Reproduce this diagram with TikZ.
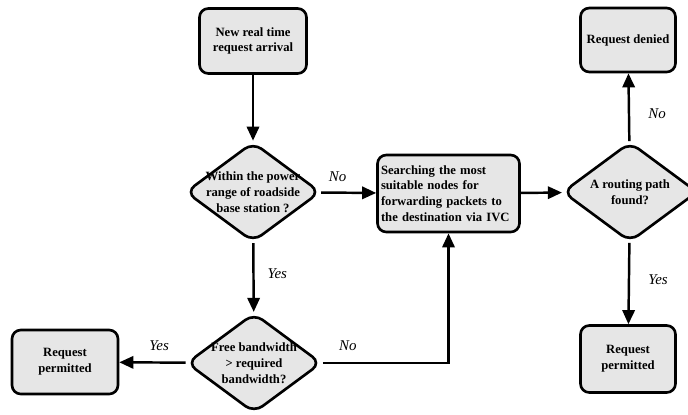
\documentclass[tikz,border=0pt]{standalone}
\usepackage{fontspec}
\setmainfont{Liberation Serif}
\usetikzlibrary{arrows.meta,shapes.geometric}
\definecolor{boxgray}{HTML}{E6E6E6}
\tikzset{
  block/.style={rectangle,rounded corners=5pt,draw=black,line width=1.5pt,fill=boxgray,
    align=center,font=\bfseries\fontsize{7.2}{9}\selectfont},
  decision/.style={diamond,rounded corners=6pt,draw=black,line width=1.5pt,fill=boxgray,
    minimum width=2.7cm,minimum height=2cm,inner sep=0pt},
  dtext/.style={align=center,font=\bfseries\fontsize{7.2}{9}\selectfont},
  flow/.style={line width=1.4pt,-{Triangle[length=8pt,width=7pt]}},
  answer/.style={font=\itshape\fontsize{8.5}{10}\selectfont}
}
\begin{document}
\begin{tikzpicture}[x=0.02cm,y=-0.02cm]
\useasboundingbox (0,0) rectangle (688,414);
% \draw[help lines,step=50] (0,0) grid (688,414);
\node (arrive) [block,minimum width=2.14cm,minimum height=1.3cm] at (253,41) {New real time\\request arrival};
\node (range) [decision,label={[dtext]center:Within the power\\range of roadside\\base station ?}] at (253,192) {};
\node (band) [decision,label={[dtext]center:Free bandwidth\\> required\\bandwidth?}] at (254,363) {};
\node (okleft) [block,minimum width=2.12cm,minimum height=1.28cm] at (65,362) {Request\\permitted};
\node (search) [block,minimum width=2.82cm,minimum height=1.54cm,align=left,text width=2.7cm,inner sep=2pt] at (448.5,193.5)
  {Searching the most\\suitable nodes for\\forwarding packets to\\the destination via IVC};
\node (route) [decision,label={[dtext]center:A routing path\\found?}] at (630,192) {};
\node (denied) [block,minimum width=1.9cm,minimum height=1.28cm] at (628,40) {Request denied};
\node (okright) [block,minimum width=1.9cm,minimum height=1.34cm] at (628,359) {Request\\permitted};
%
\draw[flow] (arrive) -- (range);
\draw[flow] (range) -- node[answer,pos=0.45,right=4pt] {Yes} (band);
\draw[flow] (range) -- node[answer,pos=0.3,above=2pt] {No} (search);
\draw[flow] (band) -- node[answer,pos=0.4,above=3pt] {Yes} (okleft);
\draw[flow] (band) -| node[answer,pos=0.1,above=3pt] {No} (search);
\draw[flow] (search) -- (route);
\draw[flow] (route) -- node[answer,pos=0.4,right=7pt] {No} (denied);
\draw[flow] (route) -- node[answer,pos=0.45,right=7pt] {Yes} (okright);
\end{tikzpicture}
\end{document}
